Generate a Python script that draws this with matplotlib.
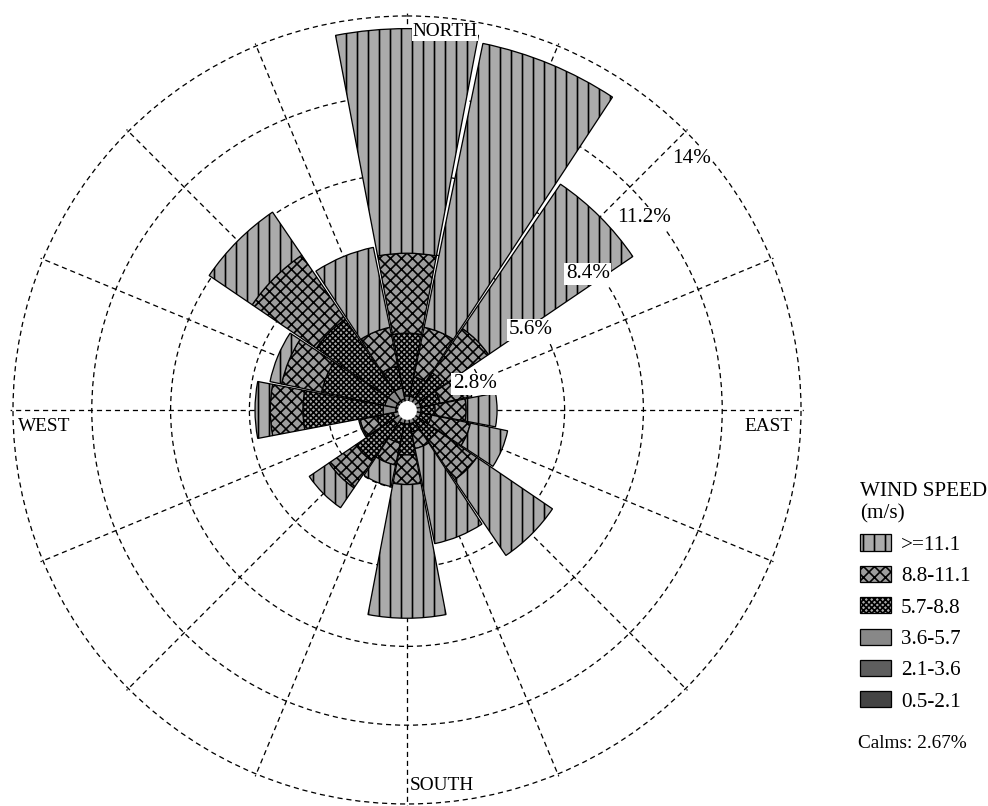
import numpy as np
import matplotlib
matplotlib.use("Agg")
import matplotlib.pyplot as plt
from matplotlib.patches import Patch

plt.rcParams['font.family'] = ['Liberation Serif', 'DejaVu Serif']
plt.rcParams['hatch.linewidth'] = 0.9

# wind rose data, frequency (%) of each speed class per direction
directions = ['N', 'NNE', 'NE', 'ENE', 'E', 'ESE', 'SE', 'SSE',
              'S', 'SSW', 'SW', 'WSW', 'W', 'WNW', 'NW', 'NNW']
speed_labels = ['0.5-2.1', '2.1-3.6', '3.6-5.7', '5.7-8.8', '8.8-11.1', '>=11.1']
s_05_21 = [0.15, 0.15, 0.15, 0.15, 0.15, 0.15, 0.15, 0.15, 0.15, 0.15, 0.15, 0.15, 0.2, 0.2, 0.2, 0.2]
s_21_36 = [0.15, 0.15, 0.15, 0.15, 0.15, 0.15, 0.15, 0.15, 0.15, 0.15, 0.15, 0.15, 0.2, 0.2, 0.2, 0.2]
s_36_57 = [0.2, 0.2, 0.2, 0.2, 0.2, 0.2, 0.2, 0.2, 0.2, 0.2, 0.3, 0.2, 0.45, 0.4, 0.4, 0.4]
s_57_88 = [2.23, 0.7, 1.1, 0.7, 0.5, 0.4, 0.8, 0.3, 1.1, 0.7, 1.6, 0.6, 2.85, 2.3, 3.1, 0.8]
s_88_111 = [2.84, 1.8, 1.9, 1.0, 1.1, 1.4, 1.7, 0.6, 1.05, 0.8, 1.15, 0.6, 1.16, 1.45, 2.75, 1.4]
s_111 = [7.98, 10.3, 6.2, 0.15, 1.1, 1.35, 3.25, 3.45, 4.75, 0.78, 0.85, 0.05, 0.54, 0.42, 1.85, 2.9]
calms = 2.67
rings = [2.8, 5.6, 8.4, 11.2, 14]
ring_labels = ['2.8%', '5.6%', '8.4%', '11.2%', '14%']

classes = [s_05_21, s_21_36, s_36_57, s_57_88, s_88_111, s_111]
faces = ['#444444', '#5e5e5e', '#888888', '#aaaaaa', '#9c9c9c', '#ababab']
hatches = ['', '', '', 'xxxxxxxx', 'xxxx', '||']

dpi = 132
fig = plt.figure(figsize=(988 / dpi, 806 / dpi), dpi=dpi)
ax = fig.add_axes([0.0103, -0.001, 0.8033, 0.9847], projection='polar')
ax.set_theta_zero_location('N')
ax.set_theta_direction(-1)
ax.set_ylim(0, 14.1)

theta = np.deg2rad(np.arange(16) * 22.5)
width = np.deg2rad(21.6)
bottom = np.zeros(16)
for vals, fc, h in zip(classes, faces, hatches):
    vals = np.array(vals)
    ax.bar(theta, vals, width=width, bottom=bottom, color=fc, hatch=h,
           edgecolor='black', linewidth=0.7, zorder=3)
    bottom += vals

# calm circle in the middle
tt = np.linspace(0, 2 * np.pi, 200)
ax.fill_between(tt, 0, 0.3, color='white', zorder=6)

# dashed grid
ax.set_rgrids(rings, labels=[''] * len(rings))
ax.set_thetagrids(np.arange(16) * 22.5, labels=[''] * 16)
ax.grid(True, color='black', linestyle=(0, (4, 3)), linewidth=0.7)
ax.set_axisbelow(True)
ax.spines['polar'].set_visible(False)
ax.tick_params(length=0)

lab_ang = [69, 57, 53, 51, 48.5]
lab_r = [2.58, 5.24, 8.05, 10.85, 13.5]
for a, r, t in zip(lab_ang, lab_r, ring_labels):
    ax.text(np.deg2rad(a), r, t, ha='center', va='center', fontsize=11.5, zorder=8,
            bbox=dict(facecolor='white', edgecolor='none', pad=0.8))

fs = 10.5
fig.text(445 / 988, 1 - 32 / 806, 'NORTH', ha='center', va='center', fontsize=fs,
         bbox=dict(facecolor='white', edgecolor='none', pad=0.5), zorder=9)
fig.text(442 / 988, 1 - 786 / 806, 'SOUTH', ha='center', va='center', fontsize=fs,
         bbox=dict(facecolor='white', edgecolor='none', pad=0.5))
fig.text(44 / 988, 1 - 427 / 806, 'WEST', ha='center', va='center', fontsize=fs,
         bbox=dict(facecolor='white', edgecolor='none', pad=0.5))
fig.text(769 / 988, 1 - 427 / 806, 'EAST', ha='center', va='center', fontsize=fs,
         bbox=dict(facecolor='white', edgecolor='none', pad=0.5))

lfs = 11.5
handles = [Patch(facecolor=fc, hatch=h, edgecolor='black', linewidth=0.7)
           for fc, h in zip(faces, hatches)][::-1]
leg = ax.legend(handles, speed_labels[::-1], loc='upper left',
                bbox_to_anchor=(852 / 988, 1 - 474 / 806), bbox_transform=fig.transFigure,
                title='WIND SPEED\n(m/s)', frameon=False, fontsize=lfs,
                title_fontsize=lfs, alignment='left', handlelength=1.43,
                handleheight=0.8, labelspacing=0.52, handletextpad=0.5,
                borderaxespad=0)
fig.text(858 / 988, 1 - 743 / 806, 'Calms: %.2f%%' % calms, ha='left', va='center',
         fontsize=10.5)

fig.savefig('out.png', dpi=dpi, facecolor='white')
